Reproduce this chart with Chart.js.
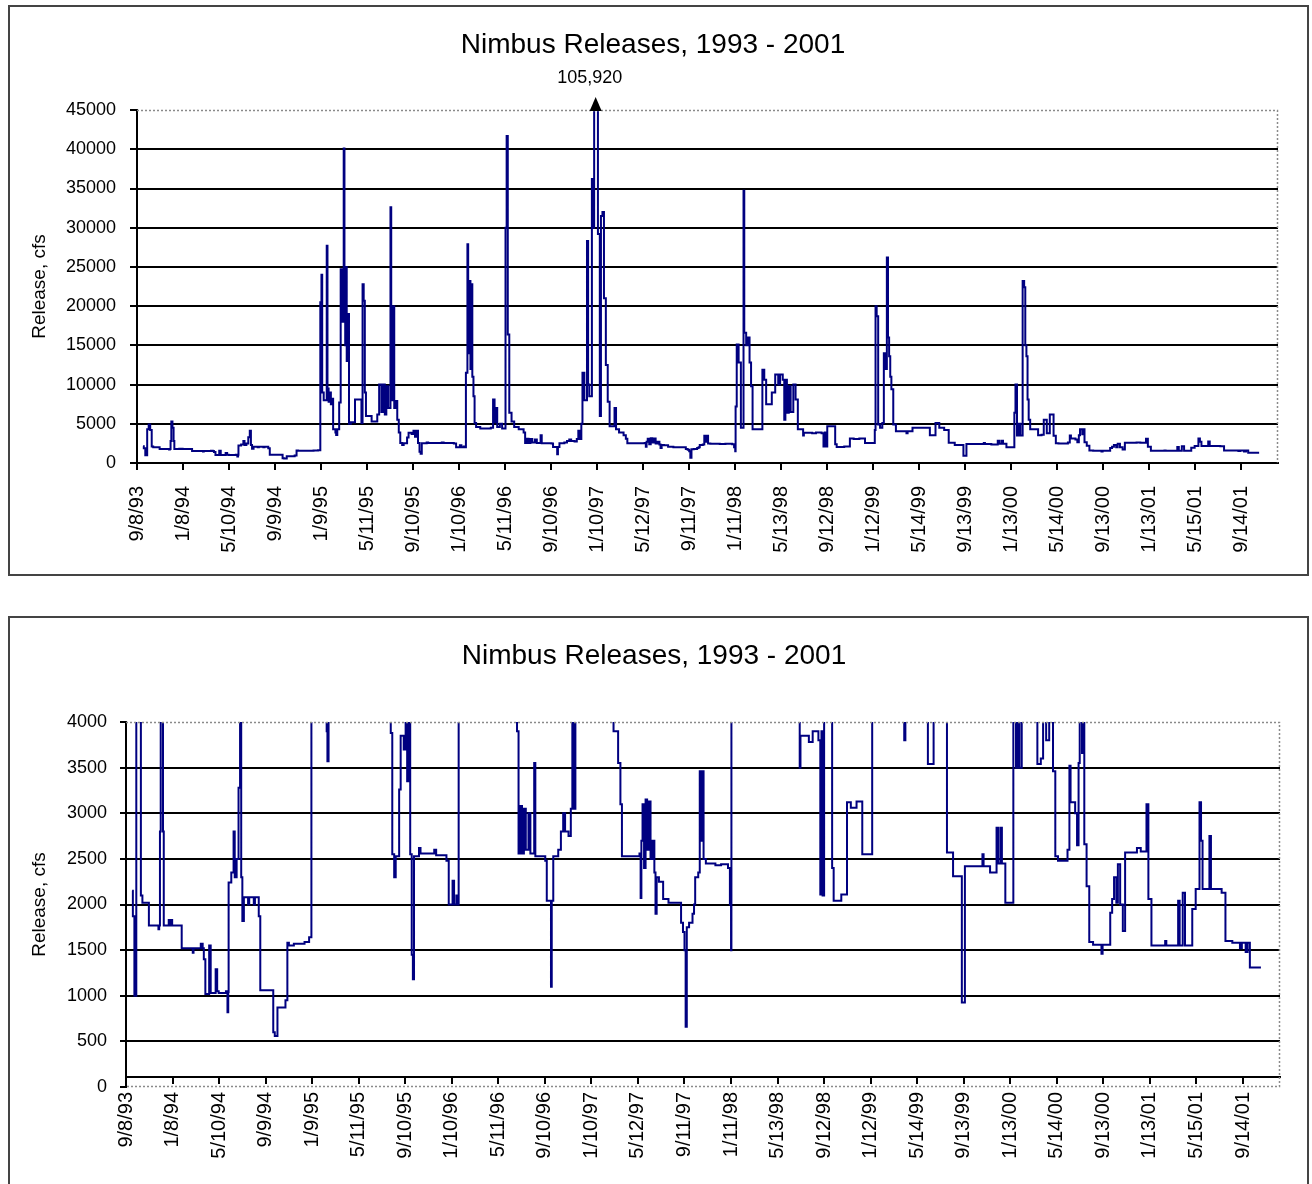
<!DOCTYPE html>
<html>
<head>
<meta charset="utf-8">
<title>Nimbus Releases, 1993 - 2001</title>
<script src="https://cdn.jsdelivr.net/npm/chart.js@4.4.1/dist/chart.umd.min.js"></script>
<style>
  html, body { margin: 0; padding: 0; background: #fff; overflow: hidden; }
  .frame { position: absolute; left: 8px; width: 1301px; border: 2px solid #444; box-sizing: border-box; background: #fff; }
  #topFrame { top: 5px; height: 571px; }
  #bottomFrame { top: 616px; height: 620px; }
  canvas { display: block; }
</style>
</head>
<body>
<div class="frame" id="topFrame"><canvas id="chartTop" width="1297" height="567"></canvas></div>
<div class="frame" id="bottomFrame"><canvas id="chartBottom" width="1297" height="616"></canvas></div>
<script>
const chartTitle = 'Nimbus Releases, 1993 - 2001';
const axisTitle = 'Release, cfs';

// category axis labels (every 122 days from 9/8/93)
const tickDays = [0, 122, 244, 366, 488, 610, 732, 854, 976, 1098, 1220, 1342, 1464,
  1586, 1708, 1830, 1952, 2074, 2196, 2318, 2440, 2562, 2684, 2806, 2928];
const tickLabels = ['9/8/93', '1/8/94', '5/10/94', '9/9/94', '1/9/95', '5/11/95', '9/10/95',
  '1/10/96', '5/11/96', '9/10/96', '1/10/97', '5/12/97', '9/11/97', '1/11/98', '5/13/98',
  '9/12/98', '1/12/99', '5/14/99', '9/13/99', '1/13/00', '5/14/00', '9/13/00', '1/13/01',
  '5/15/01', '9/14/01'];
const lastDay = 3025;

// release changes: day (since 9/8/93) where a new flow starts, and that flow in cfs
const days = [
  16, 18, 22, 27, 31, 35, 39, 43, 60, 85, 87, 89, 91, 94, 97, 99, 112, 115, 118, 121,
  146, 175, 177, 196, 201, 204, 208, 218, 222, 235, 239, 243, 262, 266, 268, 269, 276, 282, 285, 290,
  295, 299, 302, 305, 309, 320, 323, 335, 338, 348, 352, 386, 390, 397, 418, 423, 427, 440, 468, 480,
  486, 489, 491, 495, 503, 505, 508, 511, 514, 517, 520, 526, 528, 531, 536, 540, 544, 548, 550, 552,
  554, 556, 559, 562, 567, 578, 595, 598, 601, 604, 607, 622, 637, 642, 648, 653, 657, 661, 666, 672,
  674, 677, 680, 682, 686, 690, 694, 698, 703, 707, 716, 720, 728, 733, 737, 741, 745, 749, 752, 755,
  768, 772, 808, 813, 840, 846, 856, 860, 866, 868, 872, 876, 878, 881, 884, 886, 889, 892, 895, 899,
  910, 938, 944, 948, 951, 955, 962, 968, 977, 980, 983, 987, 993, 1000, 1012, 1025, 1029, 1033, 1038, 1043,
  1048, 1055, 1060, 1070, 1073, 1099, 1103, 1114, 1116, 1120, 1133, 1140, 1146, 1151, 1160, 1166, 1170, 1173, 1178, 1181,
  1186, 1193, 1196, 1199, 1206, 1210, 1212, 1215, 1217, 1219, 1222, 1227, 1230, 1234, 1238, 1243, 1248, 1253, 1266, 1270,
  1278, 1290, 1296, 1300, 1346, 1349, 1351, 1354, 1358, 1362, 1366, 1370, 1375, 1380, 1385, 1388, 1391, 1397, 1408, 1422,
  1455, 1460, 1464, 1467, 1470, 1476, 1485, 1489, 1492, 1500, 1504, 1507, 1510, 1514, 1520, 1545, 1560, 1578, 1583, 1586,
  1587, 1590, 1595, 1601, 1608, 1610, 1615, 1620, 1624, 1628, 1632, 1658, 1663, 1668, 1683, 1692, 1700, 1705, 1712, 1716,
  1719, 1723, 1728, 1733, 1740, 1746, 1752, 1766, 1768, 1790, 1800, 1815, 1820, 1823, 1826, 1830, 1851, 1855, 1875, 1890,
  1900, 1915, 1930, 1956, 1958, 1961, 1965, 1970, 1976, 1980, 1984, 1988, 1991, 1994, 1997, 2000, 2005, 2012,
  2040, 2043, 2056, 2102, 2117, 2127, 2140, 2152, 2168, 2191, 2199, 2245, 2248, 2265, 2282, 2286, 2292, 2296, 2305, 2326,
  2329, 2333, 2338, 2342, 2348, 2352, 2355, 2358, 2361, 2364, 2368, 2389, 2398, 2404, 2412, 2420, 2430, 2436, 2443, 2468,
  2473, 2476, 2488, 2493, 2497, 2500, 2506, 2508, 2512, 2518, 2525, 2535, 2557, 2560, 2580, 2585, 2590, 2596, 2600, 2606,
  2613, 2619, 2650, 2660, 2675, 2680, 2688, 2724, 2727, 2758, 2762, 2770, 2776, 2795, 2804, 2814, 2818, 2822, 2840, 2844,
  2872, 2882, 2900, 2920, 2925, 2935, 2940, 2946, 2975
];
const flows = [
  2150, 1870, 1000, 4300, 4900, 4200, 2100, 2020, 1770, 1730, 1770, 2800, 5300, 4500, 2800, 1770, 1830, 1770, 1830, 1770,
  1520, 1470, 1520, 1570, 1520, 1400, 1020, 1550, 1030, 1290, 1050, 1030, 1050, 820, 1040, 2240, 2350, 2800, 2300, 2500,
  3280, 4100, 2300, 1820, 2080, 2000, 2080, 2000, 2080, 1870, 1060, 600, 560, 870, 950, 1580, 1550, 1570, 1590, 1640,
  20500, 24000, 9000, 8000, 27700, 9500, 7800, 9000, 7500, 8200, 4300, 3900, 3570, 4300, 7700, 24700, 18000, 40100, 22600, 15000,
  25000, 13000, 19000, 5000, 5200, 8100, 5100, 22800, 20700, 9000, 6000, 5300, 6200, 10000, 6500, 10000, 6200, 9800, 7000, 32600,
  20000, 8000, 20000, 7000, 7900, 5500, 3880, 2550, 2300, 2530, 3260, 3850, 3700, 4100, 3350, 4100, 2550, 1450, 1180, 2530,
  2620, 2560, 2600, 2540, 2480, 2000, 2260, 2000, 2100, 2000, 11500, 27900, 14000, 23200, 12000, 22800, 11000, 8500, 5100, 4600,
  4400, 4500, 8100, 5200, 7000, 4600, 5000, 4400, 30000, 41700, 16400, 6400, 5300, 4600, 4300, 3900, 2560, 3080, 2560, 3050,
  2600, 3000, 2560, 3550, 2530, 2480, 2040, 1100, 2040, 2530, 2600, 2800, 3000, 2800, 2750, 3050, 4100, 3050, 5000, 11500,
  8000, 28300, 10000, 8500, 36200, 30000, 60000, 105920, 70000, 50000, 29200, 6000, 31500, 32000, 21000, 12500, 7800, 4700, 7000, 4300,
  3900, 3550, 3100, 2530, 2560, 2070, 2700, 3100, 2400, 3150, 2600, 3130, 2500, 2700, 2350, 1900, 2300, 2250, 2060, 2020,
  1800, 1700, 1500, 660, 1750, 1800, 1900, 2000, 2300, 2350, 3460, 2700, 3460, 2500, 2450, 2430, 2440, 2400, 2000, 1500,
  7200, 15100, 12800, 4500, 34700, 16600, 15000, 16000, 12800, 9800, 4300, 11900, 10600, 7500, 9000, 11300, 10000, 11300, 10600, 5500,
  10600, 6400, 9800, 6500, 10000, 8100, 4300, 3500, 3850, 3780, 3900, 3800, 2110, 3900, 2100, 4700, 2400, 2040, 2110, 3120,
  3060, 3130, 2550, 4200, 20000, 18700, 4900, 4500, 5100, 14000, 12000, 26200, 16000, 13600, 11000, 9400, 4900, 4050,
  3800, 4050, 4500, 3540, 5100, 4500, 4200, 2570, 2310, 925, 2420, 2550, 2420, 2350, 2840, 2450, 2840, 2450, 2020, 6400,
  10000, 3500, 5000, 3500, 23200, 22400, 15000, 13600, 8100, 5500, 4300, 3540, 3600, 5500, 3800, 6200, 3460, 2530, 2480, 2600,
  3520, 3120, 3000, 2650, 3550, 4300, 3660, 4300, 2660, 2200, 1590, 1560, 1460, 1560, 1910, 2060, 2300, 2020, 2440, 2000,
  1710, 2570, 2620, 2580, 3100, 2060, 1550, 1600, 1550, 2040, 1550, 2130, 1550, 1950, 2170, 3120, 2700, 2170, 2750, 2170,
  2130, 1600, 1580, 1520, 1580, 1480, 1580, 1310, 1310
];

const fontFamily = '"Liberation Sans", Arial, sans-serif';
Chart.defaults.font.family = fontFamily;
Chart.defaults.color = '#000';

// dotted plot-area border (top and right; bottom too when the category axis sits above 0)
const plotFrame = {
  id: 'plotFrame',
  afterDatasetsDraw(chart, args, opts) {
    const {ctx, chartArea: a} = chart;
    ctx.save();
    ctx.strokeStyle = '#8a8a8a';
    ctx.lineWidth = 1.5;
    ctx.setLineDash([2, 2]);
    ctx.beginPath();
    ctx.moveTo(a.left, a.top + 0.5);
    ctx.lineTo(a.right - 0.5, a.top + 0.5);
    ctx.lineTo(a.right - 0.5, a.bottom - 0.5);
    if (opts.bottom) ctx.lineTo(a.left, a.bottom - 0.5);
    ctx.stroke();
    ctx.restore();
  }
};

// arrow + value for the peak that runs off the top of the first chart
const peakMarker = {
  id: 'peakMarker',
  afterDraw(chart) {
    const {ctx, chartArea: a, scales} = chart;
    const peak = Math.max(...flows);
    const i = flows.indexOf(peak);
    const x = (scales.x.getPixelForValue(days[i]) + scales.x.getPixelForValue(days[i + 1])) / 2;
    ctx.save();
    ctx.fillStyle = '#000';
    ctx.beginPath();
    ctx.moveTo(x, a.top - 13);
    ctx.lineTo(x - 6, a.top + 1);
    ctx.lineTo(x + 6, a.top + 1);
    ctx.closePath();
    ctx.fill();
    ctx.font = '18px ' + fontFamily;
    ctx.textAlign = 'center';
    ctx.textBaseline = 'middle';
    ctx.fillText(peak.toLocaleString('en-US'), x - 6, a.top - 32);
    ctx.restore();
  }
};

function makeChart(canvasId, cfg) {
  const ctx = document.getElementById(canvasId).getContext('2d');
  const hideGrid = v => v === cfg.yMax || (cfg.xCross && v === 0);
  return new Chart(ctx, {
    type: 'line',
    data: {
      datasets: [{
        data: days.map((d, i) => ({x: d, y: flows[i]})),
        borderColor: '#000080',
        borderWidth: 2,
        pointRadius: 0,
        stepped: true,
        fill: false
      }]
    },
    options: {
      responsive: false,
      animation: false,
      layout: {padding: {top: 5, left: 18, right: cfg.padRight, bottom: cfg.padBottom}},
      plugins: {
        legend: {display: false},
        tooltip: {enabled: false},
        plotFrame: {bottom: !!cfg.xCross},
        title: {
          display: true,
          text: chartTitle,
          color: '#000',
          font: {size: 28, weight: 'normal'},
          padding: {top: cfg.titleTop, bottom: cfg.titleBottom}
        }
      },
      scales: {
        x: {
          type: 'linear',
          position: cfg.xCross ? {y: cfg.xCross} : 'bottom',
          min: 0,
          max: lastDay,
          afterBuildTicks: scale => { scale.ticks = tickDays.map(v => ({value: v})); },
          afterFit: scale => { scale.height = 100; },
          grid: {drawOnChartArea: false, drawTicks: true, tickLength: cfg.xTickLen, tickColor: '#000', lineWidth: 2},
          border: {display: true, color: '#000', width: 2},
          ticks: {
            autoSkip: false,
            maxRotation: 90,
            minRotation: 90,
            padding: cfg.xTickPad,
            color: '#000',
            font: {size: 20},
            callback: v => tickLabels[tickDays.indexOf(v)]
          }
        },
        y: {
          min: 0,
          max: cfg.yMax,
          afterFit: scale => { scale.width = cfg.yWidth; },
          grid: {
            color: c => (c.tick && hideGrid(c.tick.value)) ? 'rgba(0,0,0,0)' : '#000',
            tickColor: '#000',
            lineWidth: 2,
            tickLength: cfg.yTickLen
          },
          border: {display: true, color: '#000', width: 2},
          ticks: {
            stepSize: cfg.yStep,
            padding: cfg.yTickPad,
            color: '#000',
            font: {size: 18},
            callback: v => String(v)
          },
          title: {
            display: true,
            text: axisTitle,
            color: '#000',
            font: {size: 19},
            padding: {top: 0, bottom: 0}
          }
        }
      }
    },
    plugins: cfg.peak ? [plotFrame, peakMarker] : [plotFrame]
  });
}

makeChart('chartTop', {
  yMax: 45000, yStep: 5000, yWidth: 109, yTickLen: 7, yTickPad: 14,
  xTickLen: 7, xTickPad: 16, padRight: 29, padBottom: 11,
  titleTop: 16, titleBottom: 48.5, peak: true
});

// second chart: category axis crosses a little above 0, as in the original
makeChart('chartBottom', {
  yMax: 4000, yStep: 500, yWidth: 98, yTickLen: 6, yTickPad: 13,
  xTickLen: 6, xTickPad: 9, padRight: 27, padBottom: 147, xCross: 110,
  titleTop: 16, titleBottom: 49.4, peak: false
});
</script>
</body>
</html>
